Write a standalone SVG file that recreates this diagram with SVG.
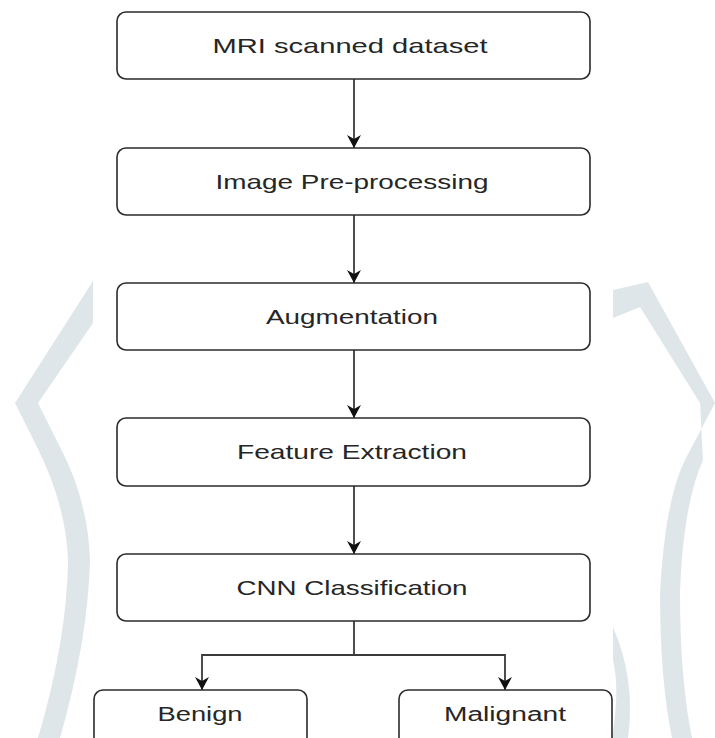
<svg xmlns="http://www.w3.org/2000/svg" width="715" height="738" viewBox="0 0 715 738">
  <style>
    .box { fill: #ffffff; stroke: #2b2b2b; stroke-width: 1.6; }
    .lbl { font-family: "Liberation Sans", Arial, sans-serif; font-size: 21px; fill: #262626; text-anchor: middle; }
    .sm { font-size: 20px; }
    .conn { fill: none; stroke: #3a3a3a; stroke-width: 1.8; }
    .wm { fill: #dfe6ea; stroke: none; }
  </style>
  <defs>
    <marker id="arrow" markerWidth="14" markerHeight="14" refX="13" refY="7" orient="auto" markerUnits="userSpaceOnUse">
      <path d="M0,0 L13,7 L0,14 L4,7 Z" fill="#111111"/>
    </marker>
  </defs>
  <rect width="715" height="738" fill="#ffffff"/>
  <g id="watermark">
    <path class="wm" d="M93,281 L15,403 L37,447 Q66,505 68,560 Q67,640 38,738 L60,738 Q88,640 90,560 Q88,500 60,447 L38,403 L93,323 Z"/>
    <path class="wm" d="M613,290 L648,282 L715,403 L685,460 Q665,500 660,593 Q660,680 672,738 L692,738 Q680,680 680,593 Q683,505 703,460 L700,403 L640,307 L613,318 Z"/>
    <path class="wm" d="M613,627 Q636,680 628,738 L612,738 Q620,690 613,660 Z"/>
  </g>
  <g id="connectors">
    <line class="conn" x1="354" y1="79" x2="354" y2="148" marker-end="url(#arrow)"/>
    <line class="conn" x1="354" y1="215" x2="354" y2="283" marker-end="url(#arrow)"/>
    <line class="conn" x1="354" y1="350" x2="354" y2="418" marker-end="url(#arrow)"/>
    <line class="conn" x1="354" y1="486" x2="354" y2="554" marker-end="url(#arrow)"/>
    <polyline class="conn" points="354,621 354,655 202,655 202,690" marker-end="url(#arrow)"/>
    <polyline class="conn" points="354,655 505,655 505,690" marker-end="url(#arrow)"/>
  </g>
  <g id="node-mri">
    <rect class="box" x="117" y="12" width="473" height="67" rx="9"/>
    <text class="lbl" x="350" y="53" textLength="275" lengthAdjust="spacingAndGlyphs">MRI scanned dataset</text>
  </g>
  <g id="node-preprocessing">
    <rect class="box" x="117" y="148" width="473" height="67" rx="9"/>
    <text class="lbl" x="352" y="189" textLength="273" lengthAdjust="spacingAndGlyphs">Image Pre-processing</text>
  </g>
  <g id="node-augmentation">
    <rect class="box" x="117" y="283" width="473" height="67" rx="9"/>
    <text class="lbl" x="352" y="323.5" textLength="172" lengthAdjust="spacingAndGlyphs">Augmentation</text>
  </g>
  <g id="node-feature">
    <rect class="box" x="117" y="418" width="473" height="68" rx="9"/>
    <text class="lbl" x="352" y="459" textLength="230" lengthAdjust="spacingAndGlyphs">Feature Extraction</text>
  </g>
  <g id="node-cnn">
    <rect class="box" x="117" y="554" width="473" height="67" rx="9"/>
    <text class="lbl" x="352" y="595" textLength="231" lengthAdjust="spacingAndGlyphs">CNN Classification</text>
  </g>
  <g id="node-benign">
    <rect class="box" x="94" y="690" width="213" height="70" rx="9"/>
    <text class="lbl sm" x="200" y="720.5" textLength="85" lengthAdjust="spacingAndGlyphs">Benign</text>
  </g>
  <g id="node-malignant">
    <rect class="box" x="399" y="690" width="213" height="70" rx="9"/>
    <text class="lbl sm" x="505" y="720.5" textLength="122" lengthAdjust="spacingAndGlyphs">Malignant</text>
  </g>
</svg>
